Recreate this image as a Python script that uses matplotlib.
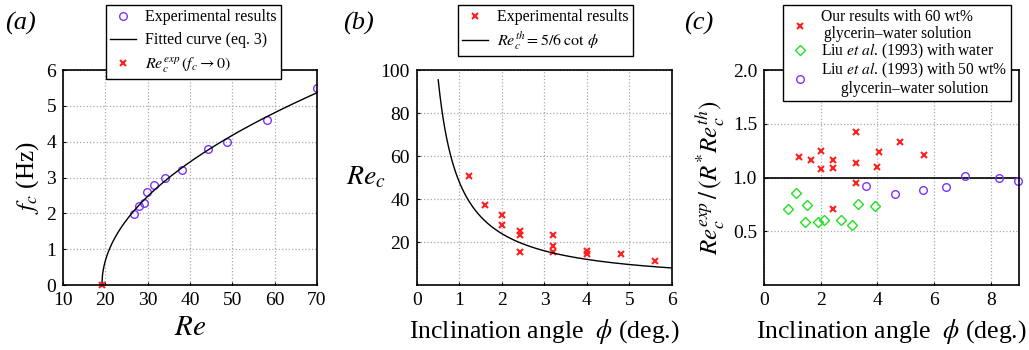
import numpy as np
import matplotlib
matplotlib.use("Agg")
import matplotlib.pyplot as plt

plt.rcParams['font.family'] = ['Liberation Serif', 'DejaVu Serif']
plt.rcParams['mathtext.fontset'] = 'stix'

# (a) frequency vs Re
re_exp = [26.8, 28.0, 29.1, 29.8, 31.4, 34.1, 38.1, 44.2, 48.8, 58.2, 70.0]
f_exp = [1.99, 2.2, 2.3, 2.6, 2.79, 3.0, 3.2, 3.8, 4.0, 4.6, 5.5]
re_crit = 19.2
fit_coef = 0.753  # eq. 3: f = a*sqrt(Re - Re_c)

# (b) critical Re vs inclination
phi_b = [1.23, 1.61, 2.0, 2.0, 2.42, 2.42, 2.42, 3.21, 3.21, 3.2, 4.01, 4.0, 4.8, 5.61]
rec_b = [50.7, 37.2, 32.6, 27.8, 25.3, 23.4, 15.2, 23.1, 18.3, 15.2, 16.0, 14.4, 14.4, 11.2]

# (c) normalised critical Re
phi_ours = [1.24, 1.65, 2.02, 2.02, 2.44, 2.44, 2.44, 3.24, 3.24, 3.24, 4.05, 4.0, 4.81, 5.64]
ratio_ours = [1.19, 1.16, 1.25, 1.08, 1.16, 1.085, 0.71, 1.42, 1.14, 0.946, 1.24, 1.10, 1.33, 1.21]
phi_water = [0.85, 1.13, 1.44, 1.52, 1.91, 2.13, 2.72, 3.12, 3.33, 3.91]
ratio_water = [0.707, 0.86, 0.59, 0.74, 0.583, 0.605, 0.605, 0.56, 0.757, 0.735]
phi_gly50 = [3.61, 4.62, 5.61, 6.42, 7.11, 8.29, 8.98]
ratio_gly50 = [0.924, 0.843, 0.884, 0.912, 1.014, 1.0, 0.97]

red = '#ff2020'
green = '#22e022'
purple = '#7a33ff'
tick_fs = 14
leg_kw = dict(loc='upper center', fancybox=False,
              edgecolor='black', framealpha=1, handlelength=1.6,
              handletextpad=0.6, borderpad=0.25, borderaxespad=0)

fig = plt.figure(figsize=(10.29, 3.5), dpi=100)
ax1 = fig.add_axes([0.0612, 0.1857, 0.2468, 0.614])
ax2 = fig.add_axes([0.4052, 0.1857, 0.2478, 0.614])
ax3 = fig.add_axes([0.7425, 0.1857, 0.2478, 0.614])

for ax in (ax1, ax2, ax3):
    ax.grid(True, linestyle=':', color='#aaaaaa', linewidth=0.9)
    ax.tick_params(direction='in', length=2, labelsize=tick_fs, width=0.8)
    ax.tick_params(axis='x', pad=5)
    ax.tick_params(axis='y', pad=5)
    for s in ax.spines.values():
        s.set_linewidth(1.2)

# panel a
re_line = np.linspace(re_crit, 70, 400)
ax1.plot(re_exp, f_exp, 'o', mfc='none', mec=purple, ms=5.5, mew=1.0,
         label='Experimental results')
ax1.plot(re_line, fit_coef * np.sqrt(re_line - re_crit), color='black', lw=1.0,
         label='Fitted curve (eq. 3)')
ax1.plot([re_crit], [0], 'x', color=red, ms=4.5, mew=1.5, clip_on=False,
         label=r'$Re_c^{exp}\,(f_c \rightarrow 0)$')
ax1.set_xlim(10, 70)
ax1.set_ylim(0, 6)
ax1.set_xticks(range(10, 71, 10))
ax1.set_yticks(range(0, 7))
ax1.set_xlabel(r'$Re$', fontsize=21, labelpad=4)
ax1.set_ylabel(r'$f_c$ (Hz)', fontsize=18)
fig.legend(*ax1.get_legend_handles_labels(), bbox_to_anchor=(0.188, 0.985),
           labelspacing=0.45, fontsize=11.5, **leg_kw)

# panel b
phi_line = np.linspace(0.5, 6, 400)
ax2.plot(phi_b, rec_b, 'x', color=red, ms=4.5, mew=1.5, label='Experimental results')
ax2.plot(phi_line, 5 / 6 / np.tan(np.radians(phi_line)), color='black', lw=1.0,
         label=r'$Re_c^{th} = 5/6\;\cot\,\phi$')
ax2.set_xlim(0, 6)
ax2.set_ylim(0, 100)
ax2.set_yticks([20, 40, 60, 80, 100])
ax2.set_xticks(range(0, 7))
ax2.set_xlabel(r'Inclination angle  $\phi$ (deg.)', fontsize=18.5, labelpad=6)
ax2.set_ylabel(r'$Re_c$', fontsize=20, rotation=0, va='center')
ax2.yaxis.set_label_coords(-0.2, 0.5)
fig.legend(*ax2.get_legend_handles_labels(), bbox_to_anchor=(0.530, 0.985),
           labelspacing=0.3, fontsize=11.5, **leg_kw)

# panel c
ax3.axhline(1.0, color='black', lw=1.2)
ax3.plot(phi_ours, ratio_ours, 'x', color=red, ms=4.5, mew=1.5,
         label='Our results with 60 wt%\nglycerin\u2013water solution')
ax3.plot(phi_water, ratio_water, 'D', mfc='none', mec=green, ms=5, mew=1.0,
         label=r'Liu $\it{et\ al}$. (1993) with water')
ax3.plot(phi_gly50, ratio_gly50, 'o', mfc='none', mec=purple, ms=5.5, mew=1.0,
         clip_on=False,
         label='Liu $\\it{et\\ al}$. (1993) with 50 wt%\nglycerin\u2013water solution')
ax3.set_xlim(0, 9)
ax3.set_ylim(0, 2)
ax3.set_xticks([0, 2, 4, 6, 8])
ax3.set_yticks([0.5, 1.0, 1.5, 2.0])
ax3.set_yticklabels(['0.5', '1.0', '1.5', '2.0'])
ax3.set_xlabel(r'Inclination angle  $\phi$ (deg.)', fontsize=18.5, labelpad=6)
ax3.set_ylabel(r'$Re_c^{exp}\,/\,(R^{*}Re_c^{th})$', fontsize=18)
leg = fig.legend(*ax3.get_legend_handles_labels(), bbox_to_anchor=(0.872, 0.985),
                 labelspacing=0.0, fontsize=11.2, **leg_kw)
for t in leg.get_texts():
    t.set_multialignment('center')
    t.set_linespacing(1.05)

fig.text(0.005, 0.915, '(a)', fontsize=19, style='italic')
fig.text(0.333, 0.915, '(b)', fontsize=19, style='italic')
fig.text(0.665, 0.915, '(c)', fontsize=19, style='italic')

fig.savefig('out.png', dpi=100)
